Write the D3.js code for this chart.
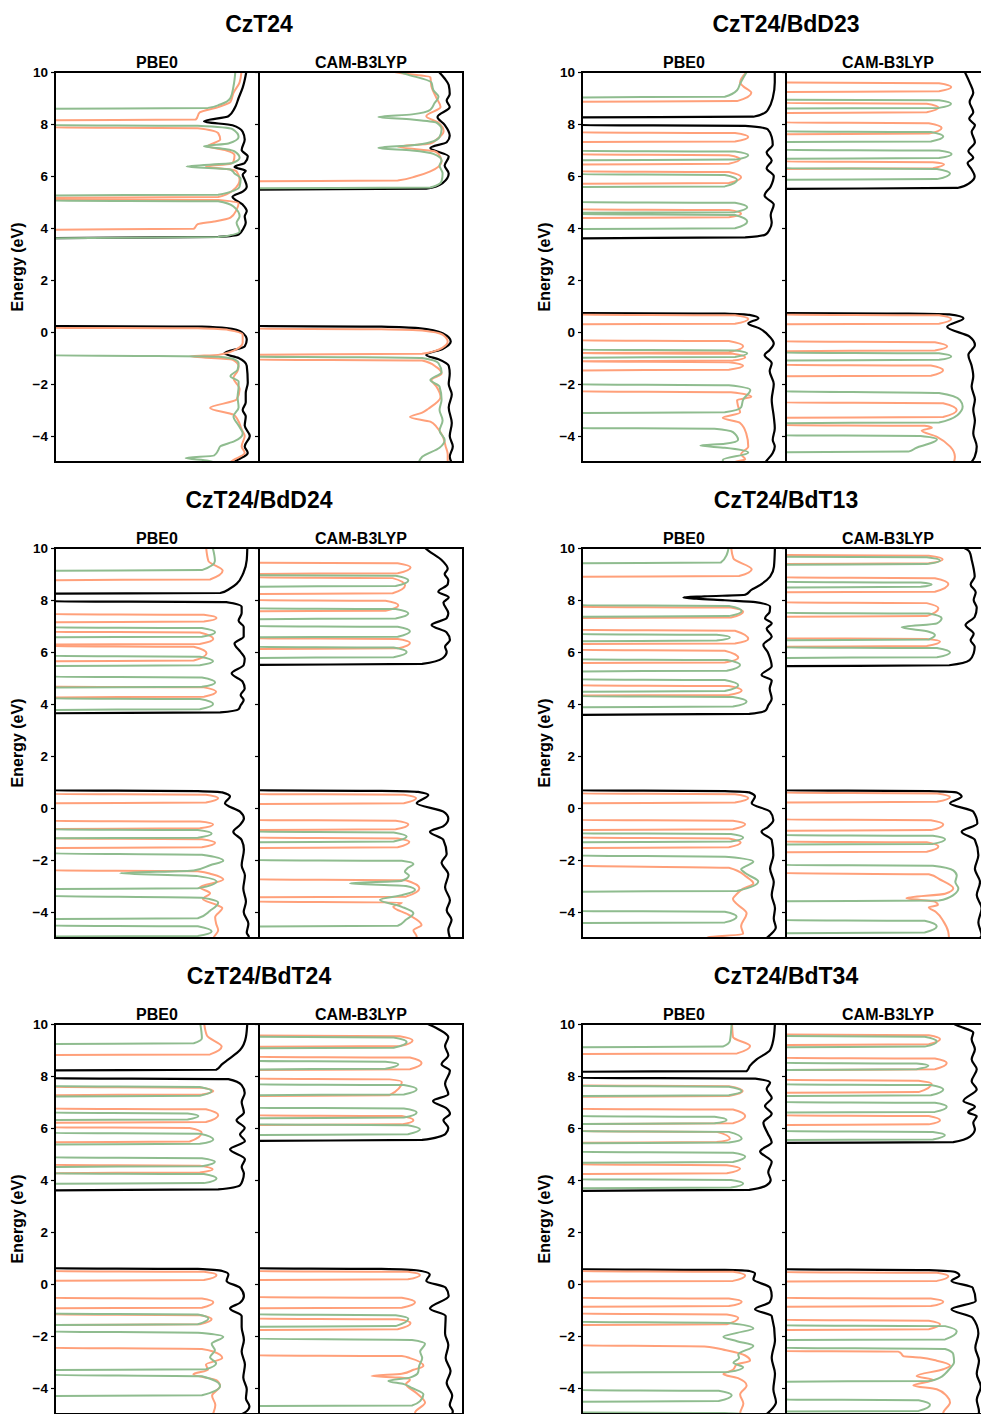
<!DOCTYPE html>
<html>
<head>
<meta charset="utf-8">
<script src="https://cdn.jsdelivr.net/npm/d3@7"></script>
<style>
  body { margin: 0; background: #fff; }
  svg { font-family: "Liberation Sans", Arial, sans-serif; font-weight: bold; }
</style>
</head>
<body>
<svg width="981" height="1414"></svg>
<script>
// energies in eV, values = normalised DOS (0..1 of panel width), -0.1 = no states
const systems = ["CzT24", "CzT24/BdD23", "CzT24/BdD24", "CzT24/BdT13", "CzT24/BdT24", "CzT24/BdT34"];
const methods = ["PBE0", "CAM-B3LYP"];
const yTicks = [-4, -2, 0, 2, 4, 6, 8, 10];

// CzT24
const czt24_pbe0_tot = [[-5.1,.85],[-4.9,.9],[-4.65,.945],[-4.4,.93],[-4,.955],[-3.6,.93],[-3.25,.935],[-3,.92],[-2.7,.935],[-2.35,.935],[-1.95,.945],[-1.3,.94],[-1,.9],[-.82,.83],[-.55,.93],[-.3,.94],[0,.915],[.15,.84],[.21,.72],[.23,-.1],[3.6,-.1],[3.66,.8],[3.75,.9],[4,.925],[4.2,.935],[4.45,.93],[4.65,.94],[4.9,.92],[5.2,.87],[5.4,.92],[5.6,.94],[5.85,.93],[6.05,.92],[6.2,.935],[6.35,.88],[6.5,.93],[6.75,.945],[7,.915],[7.4,.93],[7.7,.92],[7.95,.87],[8.1,.73],[8.3,.85],[8.6,.88],[9,.9],[9.4,.92],[10.1,.94]];
const czt24_pbe0_a = [[-5.1,.85],[-4.97,.865],[-4.65,.93],[-4.4,.915],[-4,.93],[-3.75,.915],[-3.37,.895],[-3.18,.875],[-2.92,.76],[-2.6,.89],[-2.2,.905],[-1.77,.875],[-1.5,.895],[-1.32,.9],[-1.06,.87],[-.93,.66],[-.88,.8],[-.7,.88],[-.4,.92],[-.1,.92],[.08,.85],[.14,.7],[.16,-.1],[3.93,-.1],[3.97,.68],[4.15,.7],[4.25,.78],[4.4,.86],[4.7,.89],[4.95,.9],[5.08,.8],[5.1,-.1],[5.16,-.1],[5.19,.8],[5.47,.875],[5.86,.905],[6.18,.89],[6.25,.86],[6.36,.74],[6.47,.86],[6.56,.875],[6.8,.88],[6.98,.84],[7.14,.75],[7.4,.81],[7.65,.8],[7.84,.7],[7.87,-.1],[8.14,-.1],[8.17,.69],[8.45,.71],[8.65,.8],[8.85,.86],[9.2,.875],[9.6,.905],[10.1,.915]];
const czt24_pbe0_b = [[-5.1,.8],[-4.95,.75],[-4.85,.64],[-4.75,.78],[-4.55,.8],[-4.4,.81],[-4.2,.88],[-3.9,.92],[-3.6,.9],[-3.25,.875],[-2.9,.9],[-2.5,.895],[-2.1,.9],[-1.9,.9],[-1.7,.86],[-1.45,.895],[-1.2,.9],[-1.05,.88],[-.95,.8],[-.92,.5],[-.9,-.1],[3.6,-.1],[3.65,.8],[3.87,.905],[4.2,.89],[4.45,.905],[4.83,.875],[5.03,.8],[5.05,-.1],[5.25,-.1],[5.28,.8],[5.6,.905],[5.9,.91],[6.1,.88],[6.25,.86],[6.37,.645],[6.5,.87],[6.7,.905],[6.95,.88],[7.03,.84],[7.14,.73],[7.25,.85],[7.5,.9],[7.8,.87],[7.93,.7],[7.96,-.1],[8.58,-.1],[8.62,.75],[8.75,.81],[9,.86],[9.45,.875],[10.1,.885]];
const czt24_cam_tot = [[-5.1,.95],[-4.8,.935],[-4.4,.95],[-4,.935],[-3.5,.945],[-2.9,.93],[-2.4,.945],[-2,.93],[-1.6,.935],[-1.3,.93],[-1.05,.88],[-.88,.82],[-.65,.9],[-.37,.94],[-.05,.9],[.15,.78],[.21,.6],[.23,-.1],[5.47,-.1],[5.51,.82],[5.73,.9],[6.1,.93],[6.4,.91],[6.75,.93],[7.08,.84],[7.3,.92],[7.55,.935],[7.97,.91],[8.27,.875],[8.65,.935],[8.9,.92],[9.15,.935],[9.5,.93],[9.75,.91],[10.1,.87]];
const czt24_cam_a = [[-5.1,.925],[-4.7,.925],[-4.4,.915],[-4,.9],[-3.65,.87],[-3.45,.84],[-3.27,.74],[-3.1,.8],[-2.95,.83],[-2.5,.89],[-2.1,.87],[-1.85,.845],[-1.6,.895],[-1.35,.87],[-1.1,.8],[-1.06,-.1],[-.88,-.1],[-.84,.8],[-.6,.9],[-.37,.925],[-.1,.9],[.06,.8],[.11,.6],[.13,-.1],[5.79,-.1],[5.83,.68],[5.99,.77],[6.18,.84],[6.56,.895],[6.85,.88],[6.95,.86],[7.13,.68],[7.25,.84],[7.4,.87],[7.72,.905],[8.05,.88],[8.3,.82],[8.65,.89],[9,.87],[9.45,.845],[9.8,.84],[9.95,.7],[10.1,.6]];
const czt24_cam_b = [[-5.1,.78],[-4.8,.8],[-4.45,.885],[-4.15,.91],[-3.8,.885],[-3.4,.9],[-3,.885],[-2.6,.895],[-2.1,.885],[-1.85,.84],[-1.55,.895],[-1.2,.88],[-1,.8],[-.97,.5],[-.95,-.1],[5.52,-.1],[5.56,.84],[5.8,.895],[6.1,.9],[6.4,.885],[6.6,.895],[6.85,.855],[6.98,.75],[7.08,.585],[7.18,.75],[7.3,.84],[7.5,.885],[7.8,.895],[8.05,.87],[8.17,.75],[8.27,.585],[8.37,.75],[8.55,.84],[8.8,.86],[9.05,.88],[9.3,.855],[9.6,.845],[9.92,.72],[10.1,.65]];

// CzT24/BdD23
const bdd23_pbe0_tot = [[-5.1,.89],[-4.95,.905],[-4.65,.935],[-4.4,.945],[-4.15,.935],[-3.7,.945],[-3.25,.94],[-2.6,.93],[-2,.94],[-1.5,.92],[-1.2,.93],[-.88,.895],[-.69,.92],[-.44,.94],[-.18,.92],[.14,.87],[.33,.815],[.53,.865],[.66,.82],[.71,.7],[.73,-.1],[3.6,-.1],[3.64,.8],[3.75,.9],[3.95,.92],[4.2,.93],[4.5,.925],[4.9,.94],[5.25,.895],[5.6,.925],[6,.94],[6.3,.905],[6.6,.93],[6.9,.905],[7.2,.935],[7.5,.93],[7.8,.91],[7.93,.8],[7.96,-.1],[8.25,-.1],[8.28,.84],[8.45,.9],[8.6,.915],[9,.935],[9.6,.945],[10.1,.945]];
const bdd23_pbe0_a = [[-5.1,.82],[-5,.75],[-4.9,.8],[-4.7,.78],[-4.4,.815],[-3.9,.805],[-3.5,.775],[-3.3,.69],[-3.1,.775],[-2.85,.765],[-2.62,.76],[-2.49,.83],[-2.32,.73],[-2.28,-.1],[-1.48,-.1],[-1.45,.72],[-1.3,.79],[-1.16,.72],[-1.13,-.1],[-1.1,.74],[-.97,.8],[-.84,.74],[-.81,-.1],[-.78,.72],[-.55,.79],[-.35,.72],[-.32,-.1],[.29,-.1],[.32,.75],[.5,.815],[.64,.75],[.67,-.1],[4.38,-.1],[4.41,.72],[4.55,.78],[4.69,.72],[4.72,-.1],[5.7,-.1],[5.73,.72],[5.95,.78],[6.15,.72],[6.18,-.1],[6.44,-.1],[6.47,.72],[6.65,.775],[6.8,.72],[6.83,-.1],[7.3,-.1],[7.33,.75],[7.5,.815],[7.65,.75],[7.68,-.1],[8.85,-.1],[8.88,.76],[9.2,.83],[9.45,.79],[9.6,.775],[10.1,.82]];
const bdd23_pbe0_b = [[-5.1,.7],[-4.92,.69],[-4.64,.815],[-4.45,.7],[-4.37,.58],[-4.3,.7],[-4.15,.765],[-3.85,.74],[-3.72,.65],[-3.69,-.1],[-3.12,-.1],[-3.09,.7],[-2.9,.78],[-2.6,.79],[-2.23,.825],[-2.05,.72],[-2.01,-.1],[-.99,-.1],[-.96,.75],[-.82,.81],[-.71,.75],[-.68,-.1],[3.96,-.1],[3.99,.75],[4.25,.81],[4.5,.75],[4.53,-.1],[4.58,-.1],[4.61,.75],[4.8,.81],[4.97,.75],[5,-.1],[5.57,-.1],[5.6,.7],[5.85,.76],[6.04,.7],[6.07,-.1],[6.6,-.1],[6.63,.75],[6.8,.815],[6.94,.75],[6.97,-.1],[9.02,-.1],[9.05,.7],[9.3,.76],[9.55,.775],[10.1,.815]];
const bdd23_cam_tot = [[-5.1,.9],[-4.8,.925],[-4.4,.935],[-3.9,.918],[-3.4,.926],[-3,.918],[-2.6,.926],[-2.1,.91],[-1.7,.918],[-1.3,.91],[-.88,.894],[-.5,.926],[-.18,.9],[.2,.79],[.53,.87],[.68,.8],[.71,.6],[.73,-.1],[5.5,-.1],[5.54,.84],[5.73,.9],[5.99,.925],[6.25,.91],[6.5,.89],[6.7,.918],[6.95,.894],[7.3,.926],[7.7,.91],[7.95,.926],[8.2,.898],[8.45,.918],[8.85,.9],[9.2,.918],[9.6,.9],[10.1,.87]];
const bdd23_cam_a = [[-5.1,.82],[-4.8,.828],[-4.41,.805],[-4.03,.74],[-3.79,.665],[-3.68,.715],[-3.61,.68],[-3.58,-.1],[-3.3,-.1],[-3.27,.77],[-3,.837],[-2.74,.77],[-2.71,-.1],[-1.71,-.1],[-1.68,.71],[-1.47,.77],[-1.29,.71],[-1.26,-.1],[-.74,-.1],[-.71,.73],[-.55,.79],[-.39,.73],[-.36,-.1],[.29,-.1],[.32,.75],[.5,.81],[.64,.75],[.67,-.1],[6.27,-.1],[6.3,.72],[6.45,.775],[6.53,.72],[6.56,-.1],[7.6,-.1],[7.63,.7],[7.85,.763],[8.03,.7],[8.06,-.1],[8.42,-.1],[8.45,.69],[8.63,.747],[8.78,.69],[8.81,-.1],[9.23,-.1],[9.26,.75],[9.42,.81],[9.57,.75],[9.6,-.1]];
const bdd23_cam_b = [[-4.63,-.1],[-4.6,.6],[-4.45,.64],[-4.3,.7],[-4.13,.74],[-4,.66],[-3.97,-.1],[-3.51,-.1],[-3.48,.75],[-3.2,.84],[-2.87,.866],[-2.62,.853],[-2.35,.75],[-2.27,-.1],[-1.1,-.1],[-1.07,.75],[-.94,.81],[-.82,.75],[-.79,-.1],[5.85,-.1],[5.88,.74],[6.1,.804],[6.27,.74],[6.3,-.1],[6.66,-.1],[6.69,.75],[6.85,.812],[6.98,.75],[7.01,-.1],[7.3,-.1],[7.33,.71],[7.52,.771],[7.69,.71],[7.72,-.1],[8.59,-.1],[8.62,.75],[8.78,.809],[8.91,.75],[8.94,-.1]];

// CzT24/BdD24
const bdd24_pbe0_tot = [[-5.1,.88],[-4.95,.95],[-4.8,.94],[-4.45,.948],[-4,.925],[-3.6,.936],[-3.1,.923],[-2.6,.931],[-2.2,.915],[-1.6,.926],[-1.23,.915],[-.91,.874],[-.65,.907],[-.4,.926],[-.14,.907],[.18,.833],[.44,.858],[.6,.82],[.65,.7],[.68,-.1],[3.64,-.1],[3.68,.81],[3.8,.9],[3.95,.91],[4.15,.925],[4.35,.91],[4.6,.93],[4.85,.92],[5.18,.866],[5.5,.925],[5.75,.93],[6,.91],[6.33,.88],[6.6,.925],[6.97,.925],[7.2,.9],[7.5,.915],[7.74,.915],[7.92,.84],[7.95,-.1],[8.24,-.1],[8.27,.81],[8.45,.86],[8.62,.89],[9.03,.923],[9.54,.94],[10.1,.943]];
const bdd24_pbe0_a = [[-5.1,.77],[-4.95,.78],[-4.7,.8],[-4.45,.79],[-4.2,.785],[-3.85,.82],[-3.72,.79],[-3.5,.725],[-3.28,.76],[-3.05,.71],[-2.75,.825],[-2.55,.77],[-2.43,.7],[-2.4,-.1],[-1.54,-.1],[-1.51,.72],[-1.34,.785],[-1.2,.72],[-1.17,-.1],[-.81,-.1],[-.78,.71],[-.63,.775],[-.52,.71],[-.49,-.1],[.18,-.1],[.21,.74],[.38,.8],[.51,.74],[.54,-.1],[4.25,-.1],[4.28,.73],[4.47,.79],[4.64,.73],[4.67,-.1],[5.64,-.1],[5.67,.68],[5.95,.743],[6.2,.68],[6.23,-.1],[6.28,-.1],[6.31,.71],[6.5,.776],[6.75,.71],[6.78,-.1],[7.14,-.1],[7.17,.73],[7.31,.792],[7.43,.73],[7.46,-.1],[8.76,-.1],[8.79,.76],[9.13,.822],[9.5,.752],[10.1,.74]];
const bdd24_pbe0_b = [[-4.95,-.1],[-4.92,.7],[-4.75,.768],[-4.55,.7],[-4.52,-.1],[-4.27,-.1],[-4.24,.7],[-3.95,.76],[-3.64,.8],[-3.45,.72],[-3.38,-.1],[-3.12,-.1],[-3.09,.7],[-2.83,.792],[-2.62,.7],[-2.51,.319],[-2.4,.68],[-2.2,.76],[-2.03,.825],[-1.8,.72],[-1.74,-.1],[-1.17,-.1],[-1.14,.7],[-.98,.768],[-.85,.7],[-.82,-.1],[3.77,-.1],[3.8,.71],[4,.775],[4.19,.71],[4.22,-.1],[4.63,-.1],[4.66,.72],[4.83,.785],[5.02,.72],[5.05,-.1],[5.46,-.1],[5.49,.71],[5.64,.775],[5.82,.71],[5.85,-.1],[6.56,-.1],[6.59,.72],[6.76,.785],[6.92,.72],[6.95,-.1],[9.12,-.1],[9.15,.72],[9.5,.784],[10.1,.77]];
const bdd24_cam_tot = [[-5.1,.94],[-4.69,.928],[-4.3,.944],[-3.93,.92],[-3.55,.936],[-3.05,.912],[-2.56,.928],[-2.1,.895],[-1.77,.92],[-1.23,.904],[-.91,.838],[-.7,.904],[-.4,.928],[-.14,.904],[.18,.773],[.5,.83],[.62,.78],[.66,.6],[.68,-.1],[5.5,-.1],[5.54,.8],[5.76,.9],[6.01,.92],[6.2,.912],[6.46,.936],[6.75,.92],[7.04,.846],[7.3,.92],[7.49,.928],[7.9,.904],[8.1,.93],[8.32,.879],[8.6,.925],[8.77,.928],[9,.91],[9.2,.925],[9.54,.895],[9.9,.83],[10.1,.8]];
const bdd24_cam_a = [[-5.1,.77],[-4.95,.773],[-4.7,.757],[-4.5,.797],[-4.1,.732],[-3.8,.658],[-3.63,.7],[-3.6,-.1],[-3.44,-.1],[-3.41,.72],[-3.09,.786],[-2.78,.72],[-2.74,-.1],[-1.54,-.1],[-1.51,.68],[-1.3,.737],[-1.17,.68],[-1.14,-.1],[-.85,-.1],[-.82,.67],[-.63,.732],[-.49,.67],[-.46,-.1],[.15,-.1],[.18,.71],[.38,.77],[.51,.71],[.54,-.1],[6.11,-.1],[6.14,.68],[6.35,.74],[6.5,.68],[6.53,-.1],[7.56,-.1],[7.59,.62],[7.8,.683],[7.97,.62],[8,-.1],[8.23,-.1],[8.26,.655],[8.57,.716],[8.84,.655],[8.87,-.1],[9,-.1],[9.03,.68],[9.25,.743],[9.41,.68],[9.44,-.1]];
const bdd24_cam_b = [[-4.56,-.1],[-4.53,.68],[-4.3,.72],[-4.05,.757],[-3.8,.7],[-3.53,.593],[-3.35,.7],[-3.15,.765],[-3,.72],[-2.9,.446],[-2.8,.7],[-2.6,.735],[-2.45,.715],[-2.3,.73],[-2.15,.757],[-2.03,.7],[-2,-.1],[-1.32,-.1],[-1.29,.66],[-1.1,.724],[-.94,.66],[-.91,-.1],[5.77,-.1],[5.8,.66],[6,.724],[6.17,.66],[6.2,-.1],[6.56,-.1],[6.59,.68],[6.8,.74],[6.97,.68],[7,-.1],[7.26,-.1],[7.29,.67],[7.48,.732],[7.65,.67],[7.68,-.1],[8.51,-.1],[8.54,.67],[8.75,.732],[8.93,.67],[8.96,-.1]];

// CzT24/BdT13
const bdt13_pbe0_tot = [[-5.1,.89],[-4.9,.92],[-4.6,.95],[-4.25,.94],[-3.86,.946],[-3.35,.93],[-2.85,.94],[-2.34,.922],[-1.82,.938],[-1.23,.93],[-.91,.88],[-.72,.913],[-.46,.938],[-.14,.922],[.18,.832],[.44,.848],[.6,.82],[.65,.7],[.68,-.1],[3.58,-.1],[3.62,.82],[3.75,.9],[3.95,.913],[4.2,.93],[4.6,.92],[4.9,.93],[5.12,.88],[5.45,.93],[5.8,.92],[6,.91],[6.27,.889],[6.6,.93],[6.9,.905],[7.1,.93],[7.3,.897],[7.55,.92],[7.74,.922],[7.92,.85],[7.99,.7],[8.05,.56],[8.1,.497],[8.14,.6],[8.2,.8],[8.4,.832],[8.5,.856],[8.9,.922],[9.28,.941],[10.1,.946]];
const bdt13_pbe0_a = [[-5.1,.6],[-4.97,.62],[-4.85,.79],[-4.55,.78],[-4.05,.807],[-3.7,.76],[-3.5,.74],[-3.3,.76],[-3.1,.79],[-2.9,.84],[-2.65,.807],[-2.3,.72],[-2.21,-.1],[-1.54,-.1],[-1.51,.72],[-1.33,.778],[-1.17,.72],[-1.14,-.1],[-.85,-.1],[-.82,.74],[-.62,.8],[-.49,.74],[-.46,-.1],[.18,-.1],[.21,.75],[.38,.815],[.53,.75],[.56,-.1],[4.32,-.1],[4.35,.72],[4.52,.783],[4.69,.72],[4.72,-.1],[5.57,-.1],[5.6,.7],[5.78,.766],[6.05,.7],[6.08,-.1],[6.3,-.1],[6.33,.75],[6.5,.815],[6.82,.75],[6.85,-.1],[7.3,-.1],[7.33,.73],[7.55,.79],[7.71,.73],[7.74,-.1],[8.89,-.1],[8.92,.77],[9.18,.832],[9.6,.742],[10.1,.73]];
const bdt13_pbe0_b = [[-4.43,-.1],[-4.4,.7],[-4.18,.758],[-3.99,.7],[-3.96,-.1],[-3.22,-.1],[-3.19,.76],[-2.83,.864],[-2.55,.81],[-2.35,.78],[-2.25,.8],[-2.06,.84],[-1.88,.72],[-1.82,-.1],[-1.32,-.1],[-1.29,.73],[-1.13,.79],[-1,.73],[-.97,-.1],[3.87,-.1],[3.9,.74],[4.1,.807],[4.27,.74],[4.3,-.1],[4.47,-.1],[4.5,.7],[4.72,.766],[4.92,.7],[4.95,-.1],[5.25,-.1],[5.28,.71],[5.5,.775],[5.69,.71],[5.72,-.1],[6.41,-.1],[6.44,.66],[6.56,.725],[6.66,.66],[6.69,-.1],[7.35,-.1],[7.38,.72],[7.58,.783],[7.77,.72],[7.8,-.1],[9.41,-.1],[9.44,.68],[9.75,.71],[10.1,.72]];
const bdt13_cam_tot = [[-5.1,.93],[-4.9,.959],[-4.4,.943],[-3.86,.959],[-3.35,.935],[-2.85,.951],[-2.34,.926],[-1.82,.943],[-1.23,.926],[-.91,.861],[-.6,.938],[-.14,.918],[.18,.804],[.44,.861],[.6,.837],[.65,.7],[.68,-.1],[5.45,-.1],[5.49,.8],[5.69,.9],[5.95,.92],[6.2,.925],[6.45,.905],[6.7,.92],[7.04,.88],[7.35,.925],[7.7,.935],[8,.92],[8.3,.93],[8.6,.905],[8.9,.925],[9.2,.92],[9.55,.91],[9.85,.9],[10.1,.85]];
const bdt13_cam_a = [[-5.1,.8],[-4.75,.795],[-4.35,.771],[-4,.735],[-3.82,.7],[-3.73,.745],[-3.6,.73],[-3.47,.59],[-3.3,.78],[-3.09,.82],[-2.75,.755],[-2.55,.7],[-2.5,-.1],[-1.71,-.1],[-1.68,.69],[-1.48,.747],[-1.32,.69],[-1.29,-.1],[-.88,-.1],[-.85,.71],[-.63,.771],[-.47,.71],[-.44,-.1],[.21,-.1],[.24,.74],[.42,.804],[.56,.74],[.59,-.1],[6.2,-.1],[6.23,.69],[6.4,.755],[6.5,.69],[6.53,-.1],[7.35,-.1],[7.38,.69],[7.68,.747],[7.88,.69],[7.91,-.1],[8.29,-.1],[8.32,.73],[8.62,.796],[8.84,.73],[8.87,-.1],[9.38,-.1],[9.41,.7],[9.57,.768],[9.7,.7],[9.73,-.1]];
const bdt13_cam_b = [[-4.82,-.1],[-4.79,.68],[-4.55,.739],[-4.34,.68],[-4.31,-.1],[-3.59,-.1],[-3.56,.75],[-3.35,.82],[-3.09,.845],[-2.85,.83],[-2.6,.837],[-2.4,.82],[-2.22,.72],[-2.19,-.1],[-1.41,-.1],[-1.38,.72],[-1.2,.78],[-1.07,.72],[-1.04,-.1],[5.77,-.1],[5.8,.74],[5.98,.804],[6.15,.74],[6.18,-.1],[6.45,-.1],[6.48,.7],[6.65,.73],[6.78,.7],[6.95,.567],[7.1,.74],[7.3,.763],[7.48,.7],[7.51,-.1],[8.48,-.1],[8.51,.66],[8.6,.714],[8.67,.66],[8.7,-.1],[9.35,-.1],[9.38,.69],[9.52,.755],[9.64,.69],[9.67,-.1]];

// CzT24/BdT24
const bdt24_pbe0_tot = [[-5.1,.88],[-4.95,.93],[-4.7,.953],[-4.4,.936],[-4.05,.94],[-3.6,.923],[-3.1,.931],[-2.6,.915],[-2.15,.926],[-1.65,.915],[-1.23,.915],[-.94,.858],[-.72,.907],[-.46,.926],[-.14,.907],[.12,.841],[.37,.85],[.5,.82],[.58,.7],[.61,-.1],[3.6,-.1],[3.64,.8],[3.8,.907],[4,.92],[4.25,.926],[4.5,.915],[4.8,.931],[5.18,.858],[5.5,.931],[5.75,.907],[6,.93],[6.3,.89],[6.6,.926],[7,.915],[7.35,.93],[7.65,.915],[7.88,.85],[7.92,-.1],[8.21,-.1],[8.24,.79],[8.45,.818],[8.64,.85],[9,.907],[9.5,.936],[10.1,.943]];
const bdt24_pbe0_a = [[-5.1,.77],[-4.97,.776],[-4.65,.786],[-4.3,.77],[-3.92,.809],[-3.7,.792],[-3.47,.678],[-3.3,.75],[-3.1,.74],[-2.85,.82],[-2.72,.809],[-2.5,.72],[-2.45,-.1],[-1.58,-.1],[-1.55,.71],[-1.35,.768],[-1.2,.71],[-1.17,-.1],[-.94,-.1],[-.91,.72],[-.7,.776],[-.56,.72],[-.53,-.1],[.12,-.1],[.15,.73],[.35,.792],[.47,.73],[.5,-.1],[4.26,-.1],[4.29,.71],[4.41,.773],[4.55,.71],[4.58,-.1],[5.45,-.1],[5.48,.66],[5.82,.719],[6,.66],[6.03,-.1],[6.2,-.1],[6.23,.74],[6.49,.8],[6.72,.74],[6.75,-.1],[7.26,-.1],[7.29,.72],[7.42,.776],[7.55,.72],[7.58,-.1],[8.8,-.1],[8.83,.76],[9.13,.817],[9.55,.745],[10.1,.73]];
const bdt24_pbe0_b = [[-4.31,-.1],[-4.28,.72],[-3.92,.809],[-3.55,.72],[-3.49,-.1],[-3.31,-.1],[-3.28,.74],[-3.05,.79],[-2.82,.76],[-2.55,.784],[-2.3,.768],[-2.03,.825],[-1.88,.72],[-1.82,-.1],[-1.58,-.1],[-1.55,.7],[-1.32,.752],[-1.17,.7],[-1.14,-.1],[3.85,-.1],[3.88,.73],[4.06,.792],[4.23,.73],[4.26,-.1],[4.5,-.1],[4.53,.72],[4.7,.784],[4.84,.72],[4.87,-.1],[5.36,-.1],[5.39,.71],[5.56,.776],[5.78,.71],[5.81,-.1],[6.3,-.1],[6.33,.65],[6.46,.703],[6.56,.65],[6.59,-.1],[7.21,-.1],[7.24,.71],[7.42,.768],[7.58,.71],[7.61,-.1],[9.23,-.1],[9.26,.68],[9.45,.72],[10.1,.71]];
const bdt24_cam_tot = [[-5.1,.94],[-4.9,.95],[-4.65,.935],[-4.3,.947],[-3.8,.92],[-3.35,.939],[-2.85,.915],[-2.35,.928],[-1.9,.912],[-1.23,.915],[-.94,.838],[-.46,.93],[-.14,.915],[.12,.82],[.37,.837],[.52,.78],[.58,.6],[.61,-.1],[5.5,-.1],[5.54,.8],[5.78,.915],[6,.928],[6.3,.904],[6.55,.936],[6.75,.92],[7.04,.853],[7.3,.928],[7.7,.912],[8.2,.936],[8.45,.895],[8.8,.928],[9.15,.912],[9.5,.928],[9.8,.88],[10.1,.8]];
const bdt24_cam_a = [[-5.1,.79],[-4.95,.765],[-4.56,.814],[-4.2,.773],[-3.85,.72],[-3.68,.74],[-3.6,.69],[-3.54,.552],[-3.45,.7],[-3.3,.757],[-3.15,.806],[-2.85,.74],[-2.77,.7],[-2.74,-.1],[-1.77,-.1],[-1.74,.68],[-1.5,.743],[-1.36,.68],[-1.33,-.1],[-.94,-.1],[-.91,.7],[-.7,.765],[-.53,.7],[-.5,-.1],[.15,-.1],[.18,.73],[.35,.789],[.47,.73],[.5,-.1],[6.11,-.1],[6.14,.7],[6.3,.757],[6.46,.7],[6.49,-.1],[7.23,-.1],[7.26,.64],[7.77,.7],[7.87,.64],[7.9,-.1],[8.23,-.1],[8.26,.74],[8.5,.797],[8.71,.74],[8.74,-.1],[9.12,-.1],[9.15,.69],[9.37,.753],[9.53,.69],[9.56,-.1]];
const bdt24_cam_b = [[-4.7,-.1],[-4.67,.75],[-4.5,.79],[-4.24,.806],[-4,.75],[-3.85,.71],[-3.73,.634],[-3.6,.74],[-3.4,.78],[-3.15,.785],[-2.85,.8],[-2.6,.79],[-2.3,.814],[-2.15,.75],[-2.1,-.1],[-1.65,-.1],[-1.62,.67],[-1.33,.732],[-1.2,.67],[-1.17,-.1],[5.73,-.1],[5.76,.73],[5.95,.789],[6.11,.73],[6.14,-.1],[6.37,-.1],[6.4,.71],[6.6,.773],[6.75,.71],[6.78,-.1],[7.26,-.1],[7.29,.71],[7.49,.773],[7.65,.71],[7.68,-.1],[8.25,-.1],[8.28,.62],[8.45,.683],[8.55,.62],[8.58,-.1],[9.06,-.1],[9.09,.66],[9.31,.724],[9.48,.66],[9.51,-.1]];

// CzT24/BdT34
const bdt34_pbe0_tot = [[-5.1,.89],[-4.9,.92],[-4.55,.951],[-4.05,.938],[-3.45,.946],[-2.85,.93],[-2.15,.946],[-1.23,.93],[-.97,.848],[-.7,.92],[-.46,.93],[-.14,.922],[.18,.84],[.4,.848],[.5,.82],[.54,.7],[.57,-.1],[3.58,-.1],[3.62,.82],[3.8,.905],[4,.925],[4.3,.913],[4.7,.93],[5.1,.873],[5.45,.93],[5.8,.91],[6.2,.889],[6.55,.93],[6.85,.897],[7.15,.93],[7.5,.905],[7.75,.922],[7.9,.85],[7.93,-.1],[8.16,-.1],[8.19,.807],[8.4,.824],[8.64,.856],[9,.922],[9.54,.941],[10.1,.946]];
const bdt34_pbe0_a = [[-5.1,.78],[-4.97,.775],[-4.6,.791],[-4.25,.775],[-3.9,.807],[-3.62,.765],[-3.47,.693],[-3.3,.74],[-3.1,.758],[-2.95,.824],[-2.75,.8],[-2.55,.707],[-2.4,.6],[-2.35,-.1],[-1.58,-.1],[-1.55,.71],[-1.3,.766],[-1.17,.71],[-1.14,-.1],[-.88,-.1],[-.85,.72],[-.68,.783],[-.56,.72],[-.53,-.1],[.09,-.1],[.12,.74],[.33,.8],[.47,.74],[.5,-.1],[4.23,-.1],[4.26,.71],[4.44,.775],[4.57,.71],[4.6,-.1],[5.43,-.1],[5.46,.66],[5.59,.725],[5.85,.66],[5.88,-.1],[6.15,-.1],[6.18,.74],[6.46,.8],[6.71,.74],[6.74,-.1],[7.2,-.1],[7.23,.72],[7.42,.788],[7.61,.72],[7.64,-.1],[8.84,-.1],[8.87,.76],[9.15,.824],[9.5,.74],[10.1,.735]];
const bdt34_pbe0_b = [[-5.1,.8],[-5,.79],[-4.96,.7],[-4.94,-.1],[-4.53,-.1],[-4.5,.67],[-4.28,.734],[-4.11,.67],[-4.08,-.1],[-3.41,-.1],[-3.38,.72],[-3.2,.79],[-3.03,.742],[-2.85,.77],[-2.71,.766],[-2.38,.84],[-2.2,.76],[-2.03,.693],[-1.88,.76],[-1.71,.84],[-1.5,.72],[-1.45,-.1],[3.68,-.1],[3.71,.73],[3.87,.79],[4,.73],[4.03,-.1],[4.66,-.1],[4.69,.74],[4.9,.8],[5.05,.74],[5.08,-.1],[5.41,-.1],[5.44,.72],[5.59,.783],[5.85,.72],[5.88,-.1],[6.15,-.1],[6.18,.65],[6.31,.709],[6.43,.65],[6.46,-.1],[7.23,-.1],[7.26,.72],[7.42,.783],[7.59,.72],[7.62,-.1],[9.1,-.1],[9.13,.69],[9.35,.725],[10.1,.734]];
const bdt34_cam_tot = [[-5.1,.94],[-4.9,.946],[-4.45,.935],[-3.95,.955],[-3.45,.935],[-2.95,.946],[-2.45,.928],[-1.9,.943],[-1.3,.915],[-.97,.811],[-.65,.93],[-.14,.915],[.12,.811],[.33,.85],[.46,.83],[.53,.7],[.57,-.1],[5.42,-.1],[5.46,.82],[5.67,.902],[5.95,.926],[6.2,.918],[6.46,.935],[6.6,.893],[6.82,.926],[7.04,.87],[7.49,.935],[7.8,.91],[8.26,.935],[8.64,.91],[9.03,.926],[9.41,.91],[9.67,.918],[9.94,.84],[10.1,.8]];
const bdt34_cam_a = [[-5.1,.77],[-4.95,.771],[-4.56,.804],[-4.31,.788],[-4.05,.739],[-3.9,.624],[-3.69,.722],[-3.54,.64],[-3.28,.771],[-3.13,.804],[-2.95,.739],[-2.83,.657],[-2.77,.575],[-2.64,.56],[-2.6,.55],[-2.58,-.1],[-1.77,-.1],[-1.74,.7],[-1.55,.755],[-1.41,.7],[-1.38,-.1],[-.88,-.1],[-.85,.71],[-.68,.771],[-.56,.71],[-.53,-.1],[.09,-.1],[.12,.74],[.3,.796],[.43,.74],[.46,-.1],[6.11,-.1],[6.14,.7],[6.3,.755],[6.46,.7],[6.49,-.1],[7.35,-.1],[7.38,.65],[7.7,.714],[7.82,.65],[7.85,-.1],[8.23,-.1],[8.26,.73],[8.5,.788],[8.67,.73],[8.7,-.1],[9.19,-.1],[9.22,.7],[9.42,.755],[9.57,.7],[9.6,-.1]];
const bdt34_cam_b = [[-4.91,-.1],[-4.88,.65],[-4.64,.706],[-4.47,.65],[-4.44,-.1],[-3.76,-.1],[-3.73,.7],[-3.6,.755],[-3.45,.78],[-3.28,.8],[-3,.824],[-2.7,.82],[-2.5,.78],[-2.45,-.1],[-2.16,-.1],[-2.13,.78],[-1.82,.837],[-1.62,.78],[-1.59,-.1],[5.53,-.1],[5.56,.72],[5.73,.779],[5.85,.72],[5.88,-.1],[6.59,-.1],[6.62,.73],[6.82,.788],[6.97,.73],[7,-.1],[7.23,-.1],[7.26,.71],[7.48,.771],[7.65,.71],[7.68,-.1],[8.23,-.1],[8.26,.64],[8.4,.698],[8.48,.64],[8.51,-.1],[9.1,-.1],[9.13,.68],[9.33,.739],[9.51,.68],[9.54,-.1]];

const curves = [
  [[czt24_pbe0_tot, czt24_pbe0_a, czt24_pbe0_b], [czt24_cam_tot, czt24_cam_a, czt24_cam_b]],
  [[bdd23_pbe0_tot, bdd23_pbe0_a, bdd23_pbe0_b], [bdd23_cam_tot, bdd23_cam_a, bdd23_cam_b]],
  [[bdd24_pbe0_tot, bdd24_pbe0_a, bdd24_pbe0_b], [bdd24_cam_tot, bdd24_cam_a, bdd24_cam_b]],
  [[bdt13_pbe0_tot, bdt13_pbe0_a, bdt13_pbe0_b], [bdt13_cam_tot, bdt13_cam_a, bdt13_cam_b]],
  [[bdt24_pbe0_tot, bdt24_pbe0_a, bdt24_pbe0_b], [bdt24_cam_tot, bdt24_cam_a, bdt24_cam_b]],
  [[bdt34_pbe0_tot, bdt34_pbe0_a, bdt34_pbe0_b], [bdt34_cam_tot, bdt34_cam_a, bdt34_cam_b]]
];

const colors = ["#000000", "#FFA07A", "#8FBC8F"];
const widths = [2.2, 2, 2];

const svg = d3.select("svg");
const colX = [55, 582], rowY = [72, 548, 1024];
const subW = 204, plotH = 390;

const x = d3.scaleLinear().domain([0, 1]).range([0, subW]);
const y = d3.scaleLinear().domain([-5, 10]).range([plotH, 0]);

const line = d3.line()
    .x(d => x(d[1]))
    .y(d => y(d[0]))
    .curve(d3.curveMonotoneY);

systems.forEach((name, i) => {
    const ox = colX[i % 2], oy = rowY[Math.floor(i / 2)];

    svg.append("text")
        .attr("x", ox + subW).attr("y", oy - 40)
        .attr("text-anchor", "middle")
        .attr("font-size", 23)
        .text(name);

    svg.append("text")
        .attr("transform", `translate(${ox - 32},${oy + plotH / 2}) rotate(-90)`)
        .attr("text-anchor", "middle")
        .attr("font-size", 16)
        .text("Energy (eV)");

    methods.forEach((m, j) => {
        const g = svg.append("g").attr("transform", `translate(${ox + j * subW},${oy})`);
        const clipId = `clip${i}_${j}`;
        g.append("clipPath").attr("id", clipId)
            .append("rect").attr("width", subW).attr("height", plotH);

        const cg = g.append("g").attr("clip-path", `url(#${clipId})`);
        curves[i][j].forEach((c, k) => {
            cg.append("path")
                .datum(c)
                .attr("fill", "none")
                .attr("stroke", colors[k])
                .attr("stroke-width", widths[k])
                .attr("stroke-linejoin", "round")
                .attr("d", line);
        });

        const ax = g.append("g")
            .call(d3.axisLeft(y).tickValues(yTicks).tickSize(4).tickPadding(3)
                .tickFormat(j === 0 ? d3.format("d") : () => ""));
        ax.select(".domain").remove();
        ax.selectAll("line").attr("stroke-width", 1.2);
        ax.selectAll("text").attr("font-size", 13.5).attr("font-weight", "bold")
            .attr("font-family", "Liberation Sans, Arial, sans-serif").attr("fill", "#000");

        g.append("rect")
            .attr("width", subW).attr("height", plotH)
            .attr("fill", "none").attr("stroke", "#000").attr("stroke-width", 2);

        g.append("text")
            .attr("x", subW / 2).attr("y", -4.5)
            .attr("text-anchor", "middle")
            .attr("font-size", 16)
            .text(m);
    });
});
</script>
</body>
</html>
